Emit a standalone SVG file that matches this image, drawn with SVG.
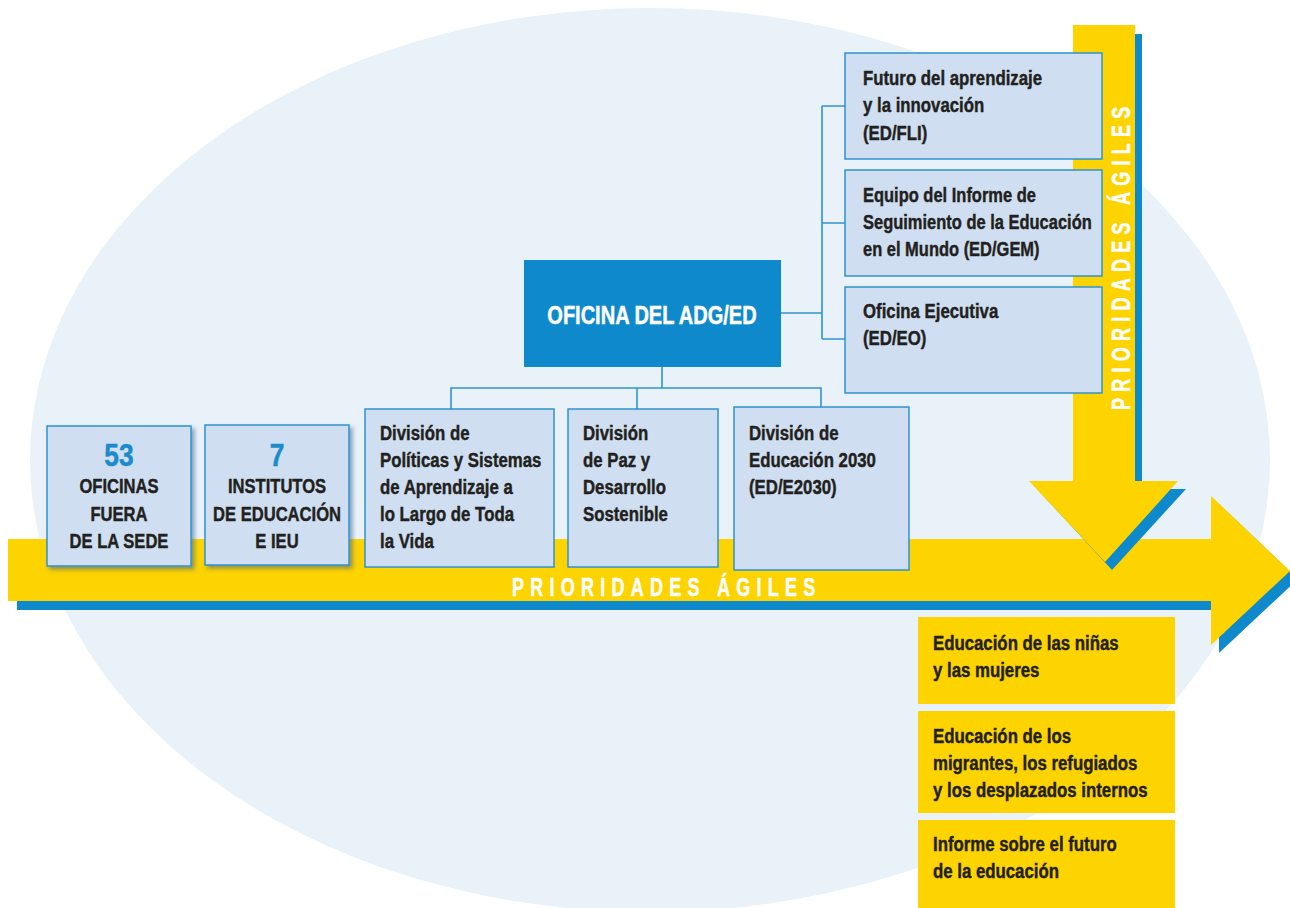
<svg xmlns="http://www.w3.org/2000/svg" width="1290" height="908" viewBox="0 0 1290 908">
<defs>
<style>
.bg{fill:#E9F1F9}
.yel{fill:#FDD300}
.blu{fill:#0E89CB}
.box{fill:#CFDFF1;stroke:#2F93D1;stroke-width:1.5}
.ybox{fill:#FDD300}
.conn{fill:none;stroke:#2F93D1;stroke-width:1.6}
.t{font-family:"Liberation Sans",Arial,sans-serif;font-weight:bold;font-size:21px;fill:#231F20;stroke:#231F20;stroke-width:0.45}
.c{text-anchor:middle}
.num{font-family:"Liberation Sans",Arial,sans-serif;font-weight:bold;font-size:31px;fill:#1B8BCB;stroke:#1B8BCB;stroke-width:0.5;text-anchor:middle}
.adg{font-family:"Liberation Sans",Arial,sans-serif;font-weight:bold;font-size:26px;fill:#FFFFFF;stroke:#FFFFFF;stroke-width:0.5;text-anchor:middle}
.pri{font-family:"Liberation Sans",Arial,sans-serif;font-weight:bold;font-size:25px;fill:#FFFFFF;stroke:#FFFFFF;stroke-width:0.5;letter-spacing:8.7px}
</style>
<filter id="sh" x="-10%" y="-10%" width="130%" height="130%">
<feDropShadow dx="3" dy="3" stdDeviation="2" flood-color="#3A5F8A" flood-opacity="0.55"/>
</filter>
</defs>

<ellipse class="bg" cx="650" cy="460" rx="620" ry="452"/>

<!-- horizontal arrow -->
<g id="arrow-h">
<rect class="blu" x="17" y="601" width="1195" height="9"/>
<polygon class="blu" points="1219,504 1298,579 1219,653"/>
<rect class="yel" x="8" y="539" width="1204" height="62"/>
<polygon class="yel" points="1211,496 1290,571 1211,645"/>
<text class="pri" transform="translate(512,596) scale(0.72,1)">PRIORIDADES ÁGILES</text>
</g>

<!-- vertical arrow -->
<g id="arrow-v">
<rect class="blu" x="1135" y="34" width="7" height="450"/>
<polygon class="blu" points="1037,489 1186,489 1112,570"/>
<rect class="yel" x="1073" y="25" width="62" height="457"/>
<polygon class="yel" points="1029,481 1178,481 1105,562"/>
<text class="pri" transform="translate(1130,410) rotate(-90) scale(0.72,1)">PRIORIDADES ÁGILES</text>
</g>

<!-- connectors -->
<g id="connectors">
<path class="conn" d="M662,366 V388 M451,409 V388 H821 V407 M637,388 V409"/>
<path class="conn" d="M781,313 H822 M822,106 V339 M822,106 H845 M822,223 H845 M822,339 H845"/>
</g>

<g id="n-adg">
<rect class="blu" x="524" y="260" width="257" height="107"/>
<text class="adg" transform="translate(652,324) scale(0.77,1)">OFICINA DEL ADG/ED</text>
</g>

<g id="n-fli">
<rect class="box" x="845" y="53" width="257" height="106"/>
<text class="t" transform="translate(863,85) scale(0.8,1)"><tspan x="0" y="0">Futuro del aprendizaje</tspan><tspan x="0" y="27">y la innovación</tspan><tspan x="0" y="55">(ED/FLI)</tspan></text>
</g>
<g id="n-gem">
<rect class="box" x="845" y="170" width="257" height="106"/>
<text class="t" transform="translate(863,202) scale(0.785,1)"><tspan x="0" y="0">Equipo del Informe de</tspan><tspan x="0" y="27">Seguimiento de la Educación</tspan><tspan x="0" y="54">en el Mundo (ED/GEM)</tspan></text>
</g>
<g id="n-eo">
<rect class="box" x="845" y="287" width="257" height="106"/>
<text class="t" transform="translate(863,318) scale(0.8,1)"><tspan x="0" y="0">Oficina Ejecutiva</tspan><tspan x="0" y="27">(ED/EO)</tspan></text>
</g>

<g id="n-oficinas">
<rect class="box" x="47" y="426" width="144" height="140" filter="url(#sh)"/>
<text class="num" transform="translate(119,466) scale(0.85,1)">53</text>
<text class="t c" transform="translate(119,493) scale(0.79,1)"><tspan x="0" y="0">OFICINAS</tspan><tspan x="0" y="28">FUERA</tspan><tspan x="0" y="55">DE LA SEDE</tspan></text>
</g>
<g id="n-institutos">
<rect class="box" x="205" y="425" width="144" height="140" filter="url(#sh)"/>
<text class="num" transform="translate(277,466) scale(0.85,1)">7</text>
<text class="t c" transform="translate(277,493) scale(0.79,1)"><tspan x="0" y="0">INSTITUTOS</tspan><tspan x="0" y="28">DE EDUCACIÓN</tspan><tspan x="0" y="55">E IEU</tspan></text>
</g>

<g id="n-politicas">
<rect class="box" x="365" y="409" width="189" height="158"/>
<text class="t" transform="translate(380,440) scale(0.8,1)"><tspan x="0" y="0">División de</tspan><tspan x="0" y="27">Políticas y Sistemas</tspan><tspan x="0" y="54">de Aprendizaje a</tspan><tspan x="0" y="81">lo Largo de Toda</tspan><tspan x="0" y="108">la Vida</tspan></text>
</g>
<g id="n-paz">
<rect class="box" x="568" y="409" width="150" height="158"/>
<text class="t" transform="translate(583,440) scale(0.8,1)"><tspan x="0" y="0">División</tspan><tspan x="0" y="27">de Paz y</tspan><tspan x="0" y="54">Desarrollo</tspan><tspan x="0" y="81">Sostenible</tspan></text>
</g>
<g id="n-e2030">
<rect class="box" x="734" y="407" width="175" height="163"/>
<text class="t" transform="translate(749,440) scale(0.8,1)"><tspan x="0" y="0">División de</tspan><tspan x="0" y="27">Educación 2030</tspan><tspan x="0" y="54">(ED/E2030)</tspan></text>
</g>

<g id="n-ninas">
<rect class="ybox" x="918" y="617" width="257" height="87"/>
<text class="t" transform="translate(933,650) scale(0.8,1)"><tspan x="0" y="0">Educación de las niñas</tspan><tspan x="0" y="27">y las mujeres</tspan></text>
</g>
<g id="n-migrantes">
<rect class="ybox" x="918" y="711" width="257" height="102"/>
<text class="t" transform="translate(933,743) scale(0.8,1)"><tspan x="0" y="0">Educación de los</tspan><tspan x="0" y="27">migrantes, los refugiados</tspan><tspan x="0" y="54">y los desplazados internos</tspan></text>
</g>
<g id="n-futuro">
<rect class="ybox" x="918" y="820" width="257" height="88"/>
<text class="t" transform="translate(933,851) scale(0.8,1)"><tspan x="0" y="0">Informe sobre el futuro</tspan><tspan x="0" y="27">de la educación</tspan></text>
</g>
</svg>
